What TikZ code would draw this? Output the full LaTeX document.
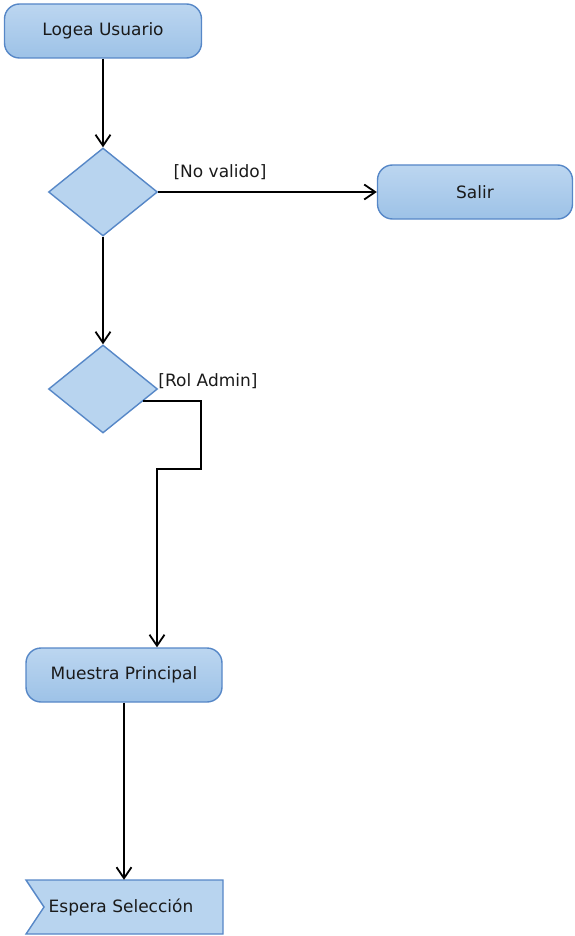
\documentclass[tikz,border=0pt]{standalone}
\usepackage{fontspec}
\setmainfont{DejaVu Sans}
\usetikzlibrary{shapes.geometric,arrows.meta,calc}

\definecolor{boxtop}{HTML}{BCD6F0}
\definecolor{boxbot}{HTML}{9DC2E7}
\definecolor{boxflat}{HTML}{B8D4EF}
\definecolor{boxline}{HTML}{5687C7}
\definecolor{txt}{HTML}{1A1A1A}

\tikzset{
  action/.style={rectangle, rounded corners=15pt, draw=boxline, line width=1.4pt,
    top color=boxtop, bottom color=boxbot, minimum height=54pt, inner sep=0pt,
    text=txt, font=\fontsize{17pt}{20pt}\selectfont},
  decision/.style={diamond, draw=boxline, fill=boxflat, line width=1.4pt,
    minimum width=109pt, minimum height=88pt, inner sep=0pt},
  guard/.style={font=\fontsize{17pt}{20pt}\selectfont, text=txt, inner sep=0pt},
  flow/.style={draw=black, line width=2pt,
    -{Straight Barb[length=11pt,width=15pt,line width=1.8pt]}},
}

\begin{document}
\begin{tikzpicture}[x=1pt, y=-1pt]
  \useasboundingbox (0,0) rectangle (574,936);

  % activity and decision nodes
  \node[action, minimum width=197pt] (logea) at (103,31) {Logea Usuario};
  \node[decision] (d1) at (103,192) {};
  \node[action, minimum width=195pt] (salir) at (475,192) {Salir};
  \node[decision] (d2) at (103,389) {};
  \node[action, minimum width=196pt] (muestra) at (124,675) {Muestra Principal};

  % accept-event shape with a notch on its left side
  \filldraw[draw=boxline, fill=boxflat, line width=1.4pt]
    (26,880) -- (223,880) -- (223,934) -- (26,934) -- (44,907) -- cycle;
  \node[inner sep=0pt, minimum width=196pt, minimum height=54pt] (espera) at (124,907) {};
  \node[font=\fontsize{17pt}{20pt}\selectfont, text=txt, inner sep=0pt] (esperatxt) at (121,907) {Espera Selección};

  % guard labels
  \node[guard] (lbl1) at (220,172) {[No valido]};
  \node[guard] (lbl2) at (208,381) {[Rol Admin]};

  % connectors
  \draw[flow] (logea.south) -- (d1.north);
  \draw[flow] (d1.east) -- (salir.west);
  \draw[flow] (d1.south) -- (d2.north);
  \coordinate (out2) at ($(d2.east)!0.27!(d2.south)$);
  \coordinate (bend) at (201,469);
  \draw[flow] (out2) -| (bend) -| ([xshift=33pt]muestra.north);
  \draw[flow] (muestra.south) -- (espera.north);
\end{tikzpicture}
\end{document}
